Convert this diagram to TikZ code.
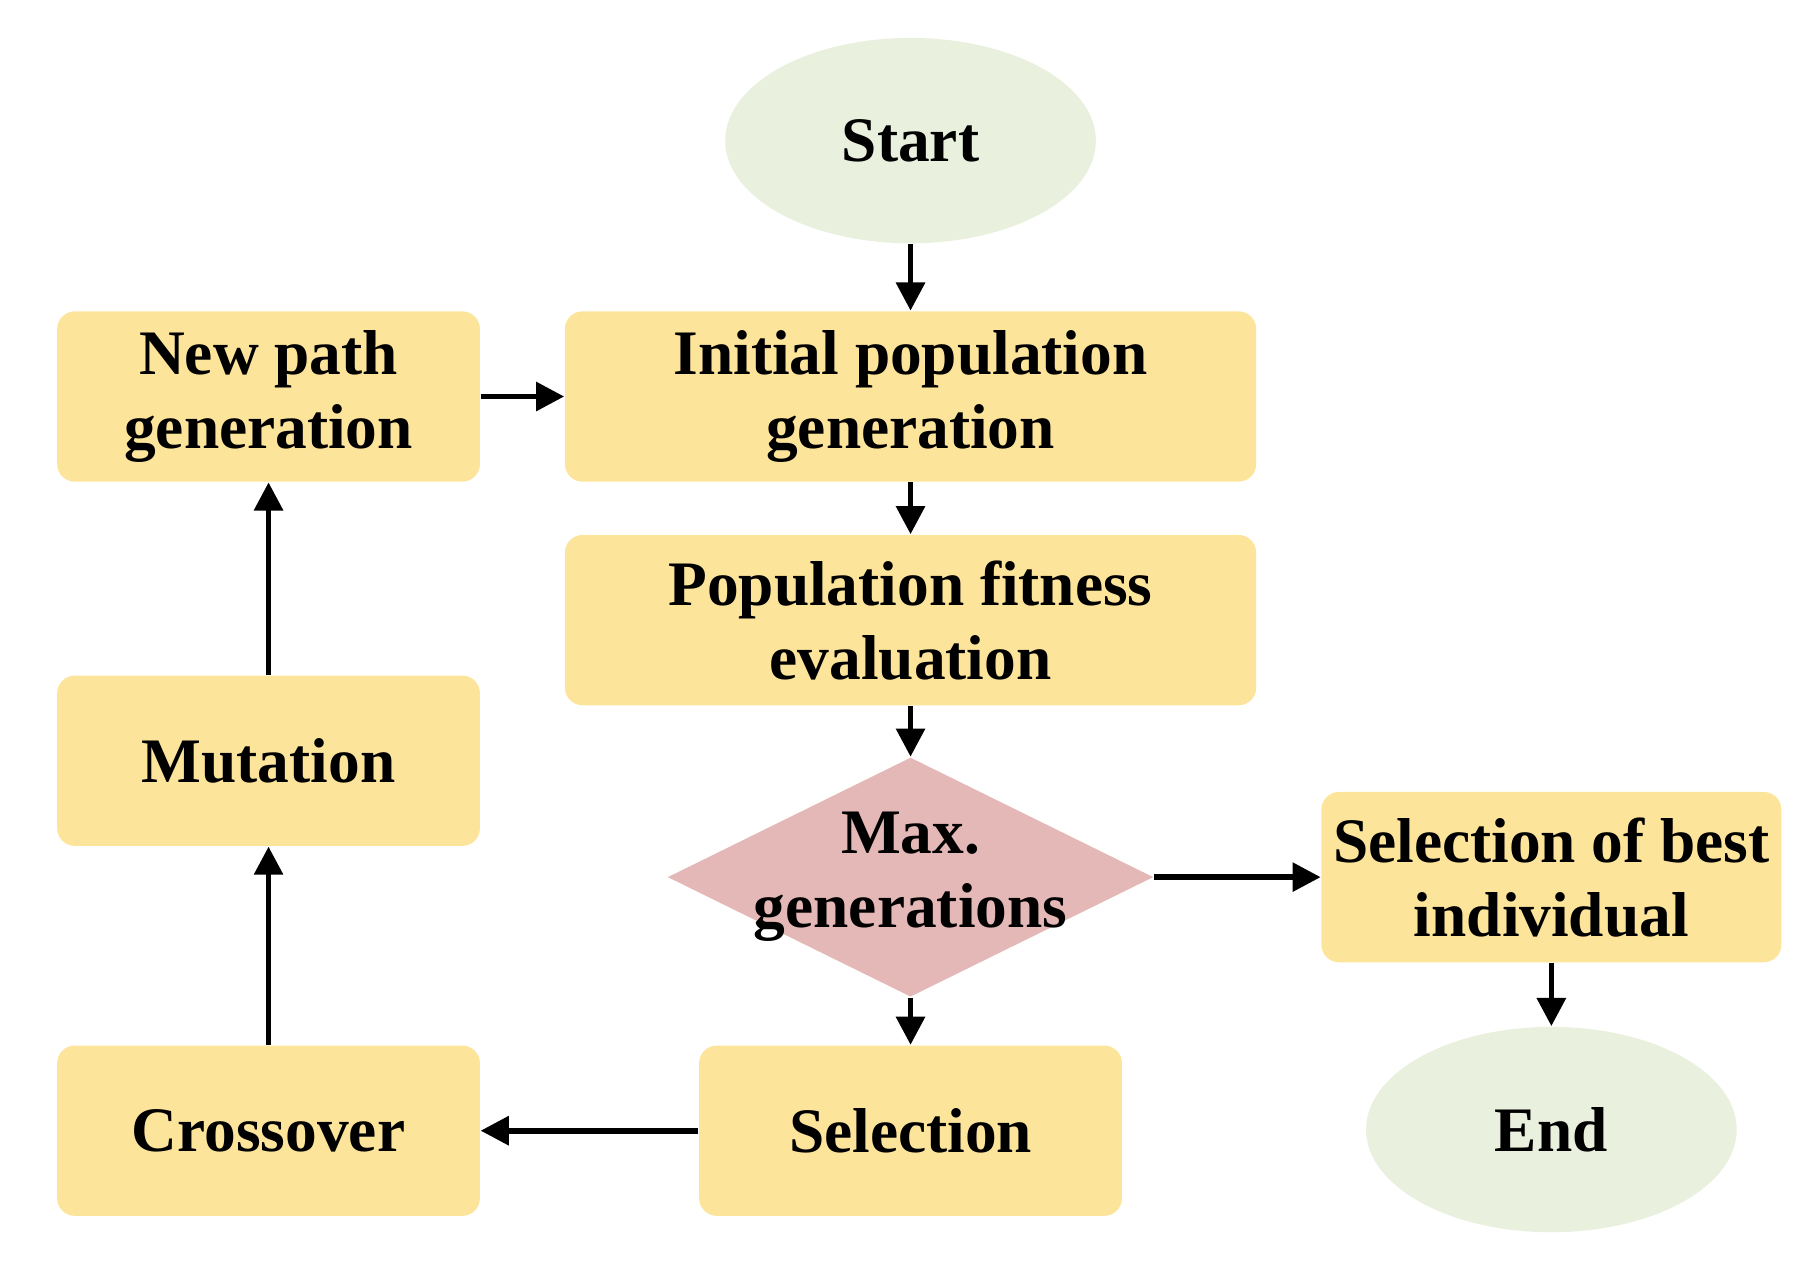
\documentclass[tikz,border=0pt]{standalone}
\usepackage{fontspec}
\setmainfont{Liberation Serif}
\usetikzlibrary{positioning, shapes.geometric, arrows.meta}
\definecolor{boxfill}{HTML}{FDE49B}
\definecolor{ovalfill}{HTML}{E9F0DD}
\definecolor{diafill}{HTML}{E4B8B6}

\begin{document}
\begin{tikzpicture}[x=0.0115cm, y=-0.0115cm,
    txt/.style={font=\fontsize{18}{21}\selectfont\bfseries, align=center},
    box/.style={txt, rectangle, rounded corners=5pt, fill=boxfill, minimum height=1.70cm},
    oval/.style={txt, ellipse, fill=ovalfill, minimum width=3.70cm, minimum height=2.05cm},
    arr/.style={-{Triangle[length=8pt,width=8pt]}, line width=1.6pt}]
    \useasboundingbox (0,0) rectangle (1560,1095);
    \node[oval] (start) at (790,122) {Start};
    \node[box, minimum width=6.90cm] (init) at (790,344) {Initial population\\generation};
    \node[box, minimum width=6.90cm] (fit) at (790,538) {Population fitness\\evaluation};
    \node[diamond, fill=diafill, minimum width=4.85cm, minimum height=2.39cm, inner sep=0pt] (maxgen) at (790,761) {};
    \node[txt] (maxgenlbl) at (790,761) {Max.\\generations};
    \node[box, minimum width=4.23cm] (best) at (1346,761) {Selection of best\\individual};
    \node[oval] (end) at (1346,980) {End};
    \node[box, minimum width=4.22cm] (sel) at (790,981) {Selection};
    \node[box, minimum width=4.22cm] (cross) at (233,981) {Crossover};
    \node[box, minimum width=4.22cm] (mut) at (233,660) {Mutation};
    \node[box, minimum width=4.22cm] (newpath) at (233,344) {New path\\generation};
    \draw[arr] (start) -- (init);
    \draw[arr] (init) -- (fit);
    \draw[arr] (fit) -- (maxgen);
    \draw[arr] (maxgen) -- (best);
    \draw[arr] (best) -- (end);
    \draw[arr] (maxgen) -- (sel);
    \draw[arr] (sel) -- (cross);
    \draw[arr] (cross) -- (mut);
    \draw[arr] (mut) -- (newpath);
    \draw[arr] (newpath) -- (init);
\end{tikzpicture}
\end{document}
